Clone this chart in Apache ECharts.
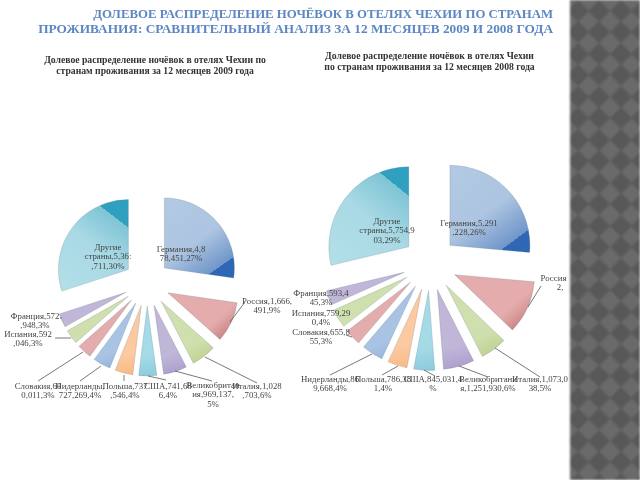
<!DOCTYPE html>
<html><head><meta charset="utf-8">
<style>
html,body{margin:0;padding:0;background:#fff;width:640px;height:480px;overflow:hidden}
#c{position:absolute;left:0;top:0;width:640px;height:480px;filter:blur(.45px)}
#side{position:absolute;left:570px;top:0;width:70px;height:480px;background-color:#6a6a6a;
background-image:url("data:image/svg+xml,%3Csvg xmlns='http://www.w3.org/2000/svg' width='21.5' height='21.5'%3E%3Cpath d='M10.75 0 L21.5 10.75 L10.75 21.5 L0 10.75Z' fill='%23585858'/%3E%3C/svg%3E");
background-position:-3px 0;filter:blur(1px)}
</style></head><body>
<div id="c"></div><div id="side"></div>
<script src="https://cdn.jsdelivr.net/npm/echarts@6/dist/echarts.min.js"></script>
<script>
const titleLines = ['ДОЛЕВОЕ РАСПРЕДЕЛЕНИЕ НОЧЁВОК В ОТЕЛЯХ ЧЕХИИ ПО СТРАНАМ','ПРОЖИВАНИЯ: СРАВНИТЕЛЬНЫЙ АНАЛИЗ ЗА 12 МЕСЯЦЕВ 2009 И 2008 ГОДА'];
const title2009 = 'Долевое распределение ночёвок в отелях Чехии по\nстранам проживания за 12 месяцев 2009 года';
const title2008 = 'Долевое распределение ночёвок в отелях Чехии\nпо странам проживания за 12 месяцев 2008 года';
const countries = ['Германия','Россия','Италия','Великобритания','США','Польша','Нидерланды','Словакия','Испания','Франция','Другие страны'];
const values2009 = [4878451,1666491,1028703,969137,741686,737546,727269,600011,592046,572948,5362711];
const values2008 = [5291228,2150000,1073038,1251930,845031,786381,869668,655855,759290,593445,5754903];
const labels2009 = ['Германия,4,8\n78,451,27%','Россия,1,666,\n491,9%','Италия,1,028\n,703,6%','Великобритан\nия,969,137,\n5%','США,741,68\n6,4%','Польша,737\n,546,4%','Нидерланды,\n727,269,4%','Словакия,60\n0,011,3%','Испания,592\n,046,3%','Франция,572\n,948,3%','Другие\nстраны,5,36:\n,711,30%'];
const labels2008 = ['Германия,5,291\n,228,26%','Россия\n      2,','Италия,1,073,0\n38,5%','Великобритани\nя,1,251,930,6%','США,845,031,4\n%','Польша,786,38\n1,4%','Нидерланды,86\n9,668,4%','Словакия,655,8\n55,3%','Испания,759,29\n0,4%','Франция,593,4\n45,3%','Другие\nстраны,5,754,9\n03,29%'];

const place2009 = [[181,254],[267,306],[257,391],[213,395],[168,391],[125,391],[80,391],[38,391],[28,339],[35,321],[108,257]];
const place2008 = [[469,228],[553.5,283],[540,384],[488,384],[433,384],[383,384],[330,384],[321,337],[321,318],[321,298],[387,231]];
const leaders2009 = [null,[[230,322],[245,302]],[[205,357],[257,383]],[[175,371],[212,381]],[[148,376],[166,380]],[[124,375],[124,381]],[[101,366],[80,381]],[[83,352],[38,381]],[[71,338],[55,338]],[[62,318],[60,318]],null];
const leaders2008 = [null,[[528,307],[541,286]],[[495,348],[540,377]],[[459,366],[488,377]],[[424,370],[435,376]],[[398,366],[382,375]],[[372,354],[330,375]],[[352,337],[346,335]],null,null,null];
const flat = [['#e4acac','#c98080'],['#d0dfae','#bcd08c'],['#c0b6d8','#a99ccb'],['#a5dbe7','#8ccbdb'],['#fcc9a0','#f8b87f'],['#a9c3e4','#8fadd8'],['#e4acac','#cf8a8a'],['#d0dfae','#bcd08c'],['#c0b6d8','#a99ccb']];
const grad=(x,y,x2,y2,stops)=>({type:'linear',x,y,x2,y2,colorStops:stops.map(s=>({offset:s[0],color:s[1]}))});
function colorOf(i,gCut,oCut){
  if(i===0) return grad(0,0,.8,1,[[0,'#b3c9e3'],[.55,'#adc5e1'],[gCut-.001,'#7096c9'],[gCut,'#2e68b5'],[1,'#2e68b5']]);
  if(i===10) return grad(0,1,1,0,[[0,'#b4dfe8'],[.5,'#a8d9e4'],[oCut-.001,'#7fc4d5'],[oCut,'#2fa0bf'],[1,'#2fa0bf']]);
  const f=flat[i-1];
  return grad(.2,0,.8,1,[[0,f[0]],[.7,f[0]],[1,f[1]]]);
}
function pie(center,radius,offset,vals,gCut,oCut){
  return {type:'pie',center,radius,startAngle:90,clockwise:true,selectedMode:'multiple',selectedOffset:offset,
    silent:true,animation:false,label:{show:false},labelLine:{show:false},
    data:countries.map((n,i)=>{const st={color:colorOf(i,gCut,oCut),borderColor:'rgba(90,110,130,.45)',borderWidth:.5};
      return {name:n,value:vals[i],selected:true,itemStyle:st,select:{itemStyle:st}};})};
}
function labelPie(center,radius,vals,labels,place,leaders){
  return {type:'pie',z:10,center,radius,startAngle:90,clockwise:true,silent:true,animation:false,avoidLabelOverlap:false,minShowLabelAngle:0,
    itemStyle:{color:'transparent'},
    label:{show:true,position:'outside',fontFamily:'Liberation Serif',fontSize:8.8,lineHeight:9.6,color:'#444',align:'center'},
    labelLine:{show:true,length:4,length2:4,lineStyle:{color:'#555',width:.8}},
    labelLayout:p=>{const o={x:place[p.dataIndex][0],y:place[p.dataIndex][1],align:'center',verticalAlign:'middle'};
      if(leaders[p.dataIndex]) o.labelLinePoints=leaders[p.dataIndex];return o;},
    data:countries.map((n,i)=>({name:n,value:vals[i],label:{formatter:labels[i]},labelLine:{show:!!leaders[i]}}))};
}
const chart=echarts.init(document.getElementById('c'),null,{renderer:'canvas'});
const ts=(x,y,text,o,al)=>({text,left:x,top:y,textAlign:al||'center',textVerticalAlign:'middle',padding:0,itemGap:0,textStyle:Object.assign({fontFamily:'Liberation Serif'},o)});
const main1={color:'#5d87c4',fontSize:12.8,fontWeight:'bold',lineHeight:15};
const main2={color:'#5d87c4',fontSize:13.3,fontWeight:'bold',lineHeight:15};
const subStyle={color:'#333',fontSize:9.7,fontWeight:'bold',lineHeight:11};
chart.setOption({animation:false,backgroundColor:'#fff',
  title:[ts(553,15,titleLines[0],main1,'right'),ts(553,30,titleLines[1],main2,'right'),ts(155,65.5,title2009,subStyle),ts(429.5,61.5,title2008,subStyle)],
  series:[pie([147,283],[0,70],23,values2009,.90,.805),pie([430,263.5],[0,80],27,values2008,.91,.82),
    labelPie([147,283],[0,70],values2009,labels2009,place2009,leaders2009),labelPie([430,263.5],[0,80],values2008,labels2008,place2008,leaders2008)]});
</script></body></html>
